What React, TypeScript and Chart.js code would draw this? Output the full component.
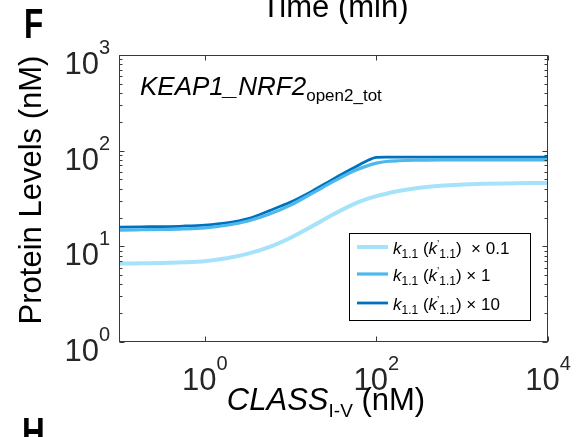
import React, { useEffect, useRef } from "react";
import { Chart, registerables } from "chart.js";

Chart.register(...registerables);

// ---- data ----
const concentrations = [0.1, 0.18, 0.32, 0.56, 1, 1.8, 3.2, 5.6, 10, 18, 32, 56, 75, 100, 130, 180, 320, 560, 1000, 1800, 3200, 5600, 10000];
const levelsX01 = [6.6, 6.65, 6.7, 6.8, 7.0, 7.5, 8.4, 9.8, 12.3, 16.3, 21.8, 28, 31, 33.5, 35.5, 37.8, 41, 43, 44.2, 45, 45.5, 45.8, 46];
const levelsX1 = [14.8, 14.9, 15.0, 15.2, 15.6, 16.6, 18.4, 21.6, 27, 36, 48, 62, 68.5, 74, 77, 78.5, 79.5, 80, 80, 80, 80, 80, 80];
const levelsX10 = [15.9, 16.0, 16.1, 16.3, 16.7, 17.6, 19.5, 23.5, 29, 38, 51, 67, 77, 85, 85.5, 85.5, 85.5, 85.5, 85.5, 85.5, 85.5, 85.5, 85.5];
const multiplierLabels = ["  \u00d7 0.1", " \u00d7 1", " \u00d7 10"];
const seriesColors = ["#a6e2fa", "#4db8eb", "#0072bd"];
const seriesWidths = [4, 3.2, 2.8];
const xTickValues = [1, 100, 10000];
const xTickExps = ["0", "2", "4"];
const yTickValues = [1, 10, 100, 1000];
const yTickExps = ["0", "1", "2", "3"];

const FF = "'Liberation Sans', Arial, Helvetica, sans-serif";

type Run = { text: string; font: string; dy?: number };

function runsWidth(ctx: CanvasRenderingContext2D, runs: Run[]) {
  let w = 0;
  for (const r of runs) {
    ctx.font = r.font;
    w += ctx.measureText(r.text).width;
  }
  return w;
}

function drawRuns(ctx: CanvasRenderingContext2D, runs: Run[], x: number, y: number, align: "left" | "center" | "right") {
  const w = runsWidth(ctx, runs);
  let cx = align === "center" ? x - w / 2 : align === "right" ? x - w : x;
  ctx.textAlign = "left";
  ctx.textBaseline = "alphabetic";
  for (const r of runs) {
    ctx.font = r.font;
    ctx.fillText(r.text, cx, y + (r.dy || 0));
    cx += ctx.measureText(r.text).width;
  }
}

const powRuns = (exp: string): Run[] => [
  { text: "10", font: `31px ${FF}` },
  { text: exp, font: `20px ${FF}`, dy: -20 },
];

const matlabPlugin = {
  id: "matlabAxes",
  afterDraw(chart: any) {
    const ctx: CanvasRenderingContext2D = chart.ctx;
    const { left, right, top, bottom } = chart.chartArea;
    const xs = chart.scales.x;
    const ys = chart.scales.y;
    ctx.save();

    // frame
    const L = Math.round(left) + 0.5, R = Math.round(right) - 0.5, T = Math.round(top) + 0.5, B = Math.round(bottom) - 0.5;
    ctx.strokeStyle = "#3a3a3a";
    ctx.lineWidth = 1;
    ctx.strokeRect(L, T, R - L, B - T);

    // ticks
    ctx.beginPath();
    for (const v of xTickValues) {
      const px = Math.round(xs.getPixelForValue(v)) + 0.5;
      ctx.moveTo(px, B); ctx.lineTo(px, B - 5);
      ctx.moveTo(px, T); ctx.lineTo(px, T + 5);
    }
    for (const v of yTickValues) {
      const py = Math.round(ys.getPixelForValue(v)) + 0.5;
      ctx.moveTo(L, py); ctx.lineTo(L + 5, py);
      ctx.moveTo(R, py); ctx.lineTo(R - 5, py);
    }
    for (let d = 1; d < 1000; d *= 10) {
      for (let m = 2; m <= 9; m++) {
        const py = Math.round(ys.getPixelForValue(m * d)) + 0.5;
        ctx.moveTo(L, py); ctx.lineTo(L + 3, py);
        ctx.moveTo(R, py); ctx.lineTo(R - 3, py);
      }
    }
    ctx.stroke();

    // tick labels
    ctx.fillStyle = "#262626";
    xTickValues.forEach((v, i) => {
      drawRuns(ctx, powRuns(xTickExps[i]), xs.getPixelForValue(v), bottom + 48, "center");
    });
    yTickValues.forEach((v, i) => {
      drawRuns(ctx, powRuns(yTickExps[i]), left - 9, ys.getPixelForValue(v) + 19, "right");
    });

    // titles
    ctx.fillStyle = "#000";
    drawRuns(ctx, [{ text: "Time (min)", font: `31px ${FF}` }], 335, 17, "center");
    drawRuns(ctx, [
      { text: "CLASS", font: `italic 31px ${FF}` },
      { text: "I-V", font: `19px ${FF}`, dy: 7 },
      { text: " (nM)", font: `31px ${FF}` },
    ], 326, 410, "center");
    ctx.save();
    ctx.translate(41, 190);
    ctx.rotate(-Math.PI / 2);
    drawRuns(ctx, [{ text: "Protein Levels (nM)", font: `31px ${FF}` }], 0, 0, "center");
    ctx.restore();

    // annotation
    drawRuns(ctx, [
      { text: "KEAP1_NRF2", font: `italic 26px ${FF}` },
      { text: "open2_tot", font: `17px ${FF}`, dy: 6 },
    ], 140, 95, "left");

    // panel letters
    ctx.save();
    ctx.font = `bold 42px ${FF}`;
    ctx.translate(24, 38);
    ctx.scale(0.75, 1);
    ctx.fillText("F", 0, 0);
    ctx.restore();
    ctx.save();
    ctx.font = `bold 42px ${FF}`;
    ctx.translate(22, 447);
    ctx.scale(0.75, 1);
    ctx.fillText("H", 0, 0);
    ctx.restore();

    // legend
    const bx = 349.5, by = 233.5, bw = 181, bh = 87;
    ctx.fillStyle = "#fff";
    ctx.fillRect(bx, by, bw, bh);
    ctx.strokeStyle = "#000";
    ctx.lineWidth = 1;
    ctx.strokeRect(bx, by, bw, bh);
    const rowY = [247, 274, 303];
    chart.data.datasets.forEach((ds: any, i: number) => {
      const y = rowY[i];
      ctx.strokeStyle = ds.borderColor;
      ctx.lineWidth = ds.borderWidth;
      ctx.beginPath();
      ctx.moveTo(357, y);
      ctx.lineTo(388, y);
      ctx.stroke();
      ctx.fillStyle = "#000";
      drawRuns(ctx, [
        { text: "k", font: `italic 17px ${FF}` },
        { text: "1.1", font: `12px ${FF}`, dy: 4 },
        { text: " (", font: `17px ${FF}` },
        { text: "k", font: `italic 17px ${FF}` },
        { text: "\u2019", font: `10px ${FF}`, dy: -6 },
        { text: "1.1", font: `12px ${FF}`, dy: 4 },
        { text: ")", font: `17px ${FF}` },
        { text: multiplierLabels[i], font: `17px ${FF}` },
      ], 393, y + 7, "left");
    });

    ctx.restore();
  },
};

export default function App() {
  const ref = useRef<HTMLCanvasElement>(null);
  useEffect(() => {
    if (!ref.current) return;
    const series = [levelsX01, levelsX1, levelsX10];
    const chart = new Chart(ref.current, {
      type: "line",
      data: {
        datasets: series.map((vals, i) => ({
          label: multiplierLabels[i],
          data: concentrations.map((c, j) => ({ x: c, y: vals[j] })),
          borderColor: seriesColors[i],
          borderWidth: seriesWidths[i],
          pointRadius: 0,
          cubicInterpolationMode: "monotone" as const,
          fill: false,
        })),
      },
      options: {
        animation: false,
        responsive: false,
        maintainAspectRatio: false,
        layout: { padding: { left: 119, top: 55, right: 35, bottom: 95 } },
        plugins: { legend: { display: false }, tooltip: { enabled: false }, title: { display: false } },
        scales: {
          x: { type: "logarithmic", min: 0.1, max: 10000, display: false },
          y: { type: "logarithmic", min: 1, max: 1000, display: false },
        },
      },
      plugins: [matlabPlugin],
    } as any);
    return () => chart.destroy();
  }, []);
  return (
    <div style={{ position: "absolute", left: 0, top: 0, width: 583, height: 437, background: "#fff" }}>
      <canvas ref={ref} width={583} height={437} style={{ display: "block", width: 583, height: 437 }} />
    </div>
  );
}
